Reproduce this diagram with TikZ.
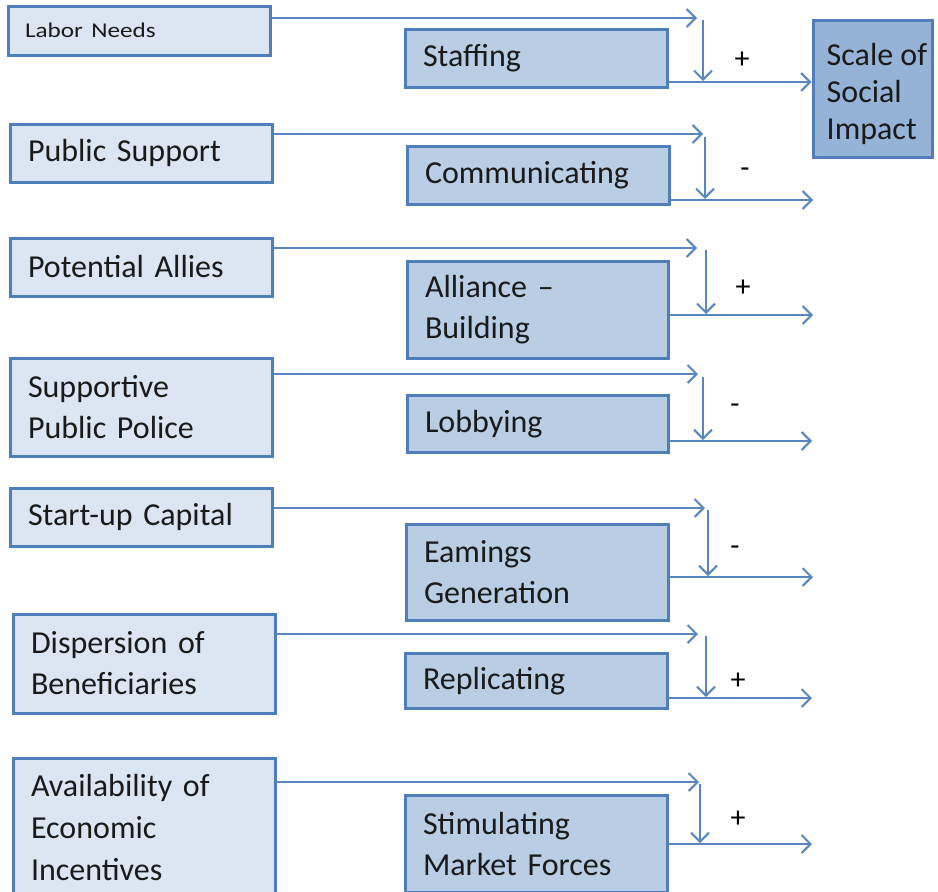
\documentclass[tikz,border=0pt]{standalone}
\usepackage{fontspec}
\setmainfont{Carlito}
\usetikzlibrary{arrows.meta}
\definecolor{bd}{HTML}{4F7FBB}
\definecolor{lf}{HTML}{DCE6F2}
\definecolor{rf}{HTML}{B9CDE5}
\definecolor{sf}{HTML}{95B3D7}
\definecolor{ac}{HTML}{5A86BF}
\definecolor{tx}{HTML}{1A1A1A}
\tikzset{
  boxbase/.style={draw=bd, line width=3pt, rectangle, inner xsep=0pt, inner ysep=0pt,
    text=tx, font=\fontsize{32}{41}\selectfont, align=left},
  lbox/.style={boxbase, fill=lf},
  rbox/.style={boxbase, fill=rf},
  sbox/.style={boxbase, fill=sf},
  stext/.style={text=tx, font=\fontsize{32}{37}\selectfont, align=left, inner sep=0pt, anchor=west},
  arr/.style={draw=ac, line width=2pt, -{Straight Barb[length=9pt,width=18pt,line width=2pt]}},
  sign/.style={font=\fontsize{30}{30}\selectfont, text=black, inner sep=0pt}
}
\begin{document}
\begin{tikzpicture}[x=1pt,y=-1pt]
\useasboundingbox (0,0) rectangle (938,892);
\clip (0,0) rectangle (938,892);
\fill[white] (0,0) rectangle (938,892);
% left boxes
\node[lbox, minimum width=262pt, minimum height=49pt, text width=228pt, font=\fontsize{21}{25}\selectfont] (L1) at (139,30.5) {\scalebox{1.2}[1]{Labor Needs}};
\node[lbox, minimum width=262pt, minimum height=58pt, text width=226pt] (L2) at (141,153) {Public Support};
\node[lbox, minimum width=262pt, minimum height=58pt, text width=226pt] (L3) at (141,267) {Potential Allies};
\node[lbox, minimum width=262pt, minimum height=98pt, text width=226pt] (L4) at (141,407) {Supportive\\Public Police};
\node[lbox, minimum width=262pt, minimum height=58pt, text width=226pt] (L5) at (141,517) {Start-up Capital};
\node[lbox, minimum width=262pt, minimum height=99pt, text width=226pt] (L6) at (144,663.5) {Dispersion of\\Beneficiaries};
\node[lbox, minimum width=262pt, minimum height=138pt, text width=226pt, font=\fontsize{32}{42}\selectfont] (L7) at (144,827) {Availability of\\Economic\\Incentives};
% right boxes
\node[rbox, minimum width=262pt, minimum height=58pt, text width=226pt] (R1) at (536,58) {Staffing};
\node[rbox, minimum width=262pt, minimum height=58pt, text width=226pt] (R2) at (538,175) {Communicating};
\node[rbox, minimum width=261pt, minimum height=97pt, text width=225pt] (R3) at (537.5,310) {Alliance –\\Building};
\node[rbox, minimum width=261pt, minimum height=57pt, text width=225pt] (R4) at (537.5,424) {Lobbying};
\node[rbox, minimum width=262pt, minimum height=96pt, text width=226pt] (R5) at (537,572) {Eamings\\Generation};
\node[rbox, minimum width=262pt, minimum height=55pt, text width=226pt] (R6) at (536,681) {Replicating};
\node[rbox, minimum width=262pt, minimum height=97pt, text width=226pt] (R7) at (536,843.5) {Stimulating\\Market Forces};
% scale box
\node[sbox, minimum width=119pt, minimum height=137pt] (S) at (872.5,88.5) {};
\node[stext] (St) at ([xshift=15pt,yshift=-5pt]S.west) {Scale of\\Social\\Impact};
% row coordinates: top tip, vertical start, vertical end, output end
\coordinate (t1) at (697,18);  \coordinate (va1) at (703,20);  \coordinate (vb1) at (703,81);  \coordinate (o1) at (812,82);
\coordinate (t2) at (703,134); \coordinate (va2) at (705,137); \coordinate (vb2) at (705,199); \coordinate (o2) at (813,200);
\coordinate (t3) at (697,248); \coordinate (va3) at (706,250); \coordinate (vb3) at (706,314); \coordinate (o3) at (813,315);
\coordinate (t4) at (698,374); \coordinate (va4) at (703,377); \coordinate (vb4) at (703,440); \coordinate (o4) at (812,441);
\coordinate (t5) at (705,508); \coordinate (va5) at (708,510); \coordinate (vb5) at (708,576); \coordinate (o5) at (813,577);
\coordinate (t6) at (698,634); \coordinate (va6) at (706,636); \coordinate (vb6) at (706,697); \coordinate (o6) at (812,698);
\coordinate (t7) at (699,782); \coordinate (va7) at (700,784); \coordinate (vb7) at (700,843); \coordinate (o7) at (812,844);
% connectors
\draw[arr] (L1.east |- t1) -- (t1);
\draw[arr] (va1) -- (vb1);
\draw[arr] (R1.east |- o1) -- (S.west |- o1);
\foreach \i in {2,...,7}{
  \draw[arr] (L\i.east |- t\i) -- (t\i);
  \draw[arr] (va\i) -- (vb\i);
  \draw[arr] (R\i.east |- o\i) -- (o\i);
}
% signs
\node[sign] (s1) at (742,60) {+};
\node[sign] (s2) at (745,173) {-};
\node[sign] (s3) at (743,288) {+};
\node[sign] (s4) at (735,409) {-};
\node[sign] (s5) at (735,551) {-};
\node[sign] (s6) at (738,681) {+};
\node[sign] (s7) at (738,819) {+};
\end{tikzpicture}
\end{document}
